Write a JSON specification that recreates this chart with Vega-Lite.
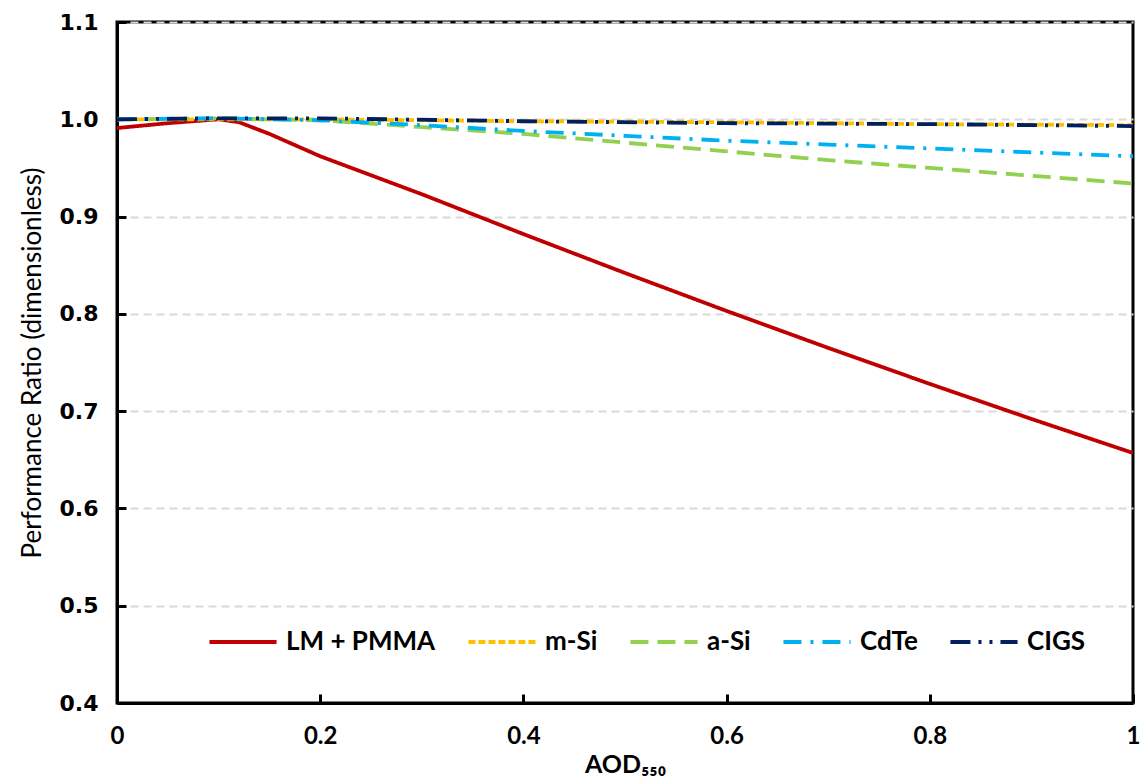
{
  "$schema": "https://vega.github.io/schema/vega-lite/v6.json",
  "width": 1016,
  "height": 681,
  "autosize": {"type": "none"},
  "padding": {"left": 117, "top": 22, "right": 10, "bottom": 77},
  "background": "white",
  "config": {
    "view": {"stroke": "black", "strokeWidth": 3},
    "axis": {
      "domainColor": "black",
      "domainWidth": 3,
      "tickColor": "black",
      "tickWidth": 3,
      "tickSize": -9,
      "labelColor": "black",
      "titleColor": "black"
    }
  },
  "data": {
    "values": [
      {"aod": 0.0, "pr": 0.991, "series": "LM + PMMA"},
      {"aod": 0.05, "pr": 0.996, "series": "LM + PMMA"},
      {"aod": 0.1, "pr": 1.0, "series": "LM + PMMA"},
      {"aod": 0.12, "pr": 0.997, "series": "LM + PMMA"},
      {"aod": 0.15, "pr": 0.985, "series": "LM + PMMA"},
      {"aod": 0.2, "pr": 0.962, "series": "LM + PMMA"},
      {"aod": 0.3, "pr": 0.923, "series": "LM + PMMA"},
      {"aod": 0.4, "pr": 0.882, "series": "LM + PMMA"},
      {"aod": 0.5, "pr": 0.842, "series": "LM + PMMA"},
      {"aod": 0.6, "pr": 0.803, "series": "LM + PMMA"},
      {"aod": 0.7, "pr": 0.765, "series": "LM + PMMA"},
      {"aod": 0.8, "pr": 0.728, "series": "LM + PMMA"},
      {"aod": 0.9, "pr": 0.692, "series": "LM + PMMA"},
      {"aod": 1.0, "pr": 0.657, "series": "LM + PMMA"},

      {"aod": 0.0, "pr": 1.0, "series": "m-Si"},
      {"aod": 0.1, "pr": 1.0, "series": "m-Si"},
      {"aod": 0.2, "pr": 1.0, "series": "m-Si"},
      {"aod": 0.4, "pr": 0.998, "series": "m-Si"},
      {"aod": 0.6, "pr": 0.997, "series": "m-Si"},
      {"aod": 0.8, "pr": 0.995, "series": "m-Si"},
      {"aod": 1.0, "pr": 0.994, "series": "m-Si"},

      {"aod": 0.0, "pr": 1.0, "series": "a-Si"},
      {"aod": 0.1, "pr": 1.001, "series": "a-Si"},
      {"aod": 0.2, "pr": 0.999, "series": "a-Si"},
      {"aod": 0.3, "pr": 0.992, "series": "a-Si"},
      {"aod": 0.4, "pr": 0.985, "series": "a-Si"},
      {"aod": 0.5, "pr": 0.976, "series": "a-Si"},
      {"aod": 0.6, "pr": 0.967, "series": "a-Si"},
      {"aod": 0.7, "pr": 0.958, "series": "a-Si"},
      {"aod": 0.8, "pr": 0.95, "series": "a-Si"},
      {"aod": 0.9, "pr": 0.942, "series": "a-Si"},
      {"aod": 1.0, "pr": 0.934, "series": "a-Si"},

      {"aod": 0.0, "pr": 1.0, "series": "CdTe"},
      {"aod": 0.1, "pr": 1.001, "series": "CdTe"},
      {"aod": 0.2, "pr": 0.999, "series": "CdTe"},
      {"aod": 0.3, "pr": 0.994, "series": "CdTe"},
      {"aod": 0.4, "pr": 0.988, "series": "CdTe"},
      {"aod": 0.5, "pr": 0.983, "series": "CdTe"},
      {"aod": 0.6, "pr": 0.978, "series": "CdTe"},
      {"aod": 0.7, "pr": 0.974, "series": "CdTe"},
      {"aod": 0.8, "pr": 0.97, "series": "CdTe"},
      {"aod": 0.9, "pr": 0.966, "series": "CdTe"},
      {"aod": 1.0, "pr": 0.962, "series": "CdTe"},

      {"aod": 0.0, "pr": 1.0, "series": "CIGS"},
      {"aod": 0.1, "pr": 1.001, "series": "CIGS"},
      {"aod": 0.2, "pr": 1.001, "series": "CIGS"},
      {"aod": 0.4, "pr": 0.998, "series": "CIGS"},
      {"aod": 0.6, "pr": 0.996, "series": "CIGS"},
      {"aod": 0.8, "pr": 0.995, "series": "CIGS"},
      {"aod": 1.0, "pr": 0.993, "series": "CIGS"}
    ]
  },
  "mark": {"type": "line", "strokeWidth": 3.8, "clip": true},
  "encoding": {
    "x": {
      "field": "aod",
      "type": "quantitative",
      "scale": {"domain": [0, 1], "nice": false},
      "axis": {
        "title": "AOD₅₅₀",
        "titleFont": "Lato",
        "titleFontSize": 25,
        "titleFontWeight": "bold",
        "titlePadding": 4,
        "values": [0, 0.2, 0.4, 0.6, 0.8, 1],
        "format": "~g",
        "labelFont": "Lato",
        "labelFontSize": 24,
        "labelFontWeight": "bold",
        "labelPadding": 30,
        "labelFlush": false,
        "grid": false
      }
    },
    "y": {
      "field": "pr",
      "type": "quantitative",
      "scale": {"domain": [0.4, 1.1], "nice": false, "zero": false},
      "axis": {
        "title": "Performance Ratio (dimensionless)",
        "titleFont": "Lato",
        "titleFontSize": 26,
        "titleFontWeight": "normal",
        "titlePadding": 14,
        "values": [0.4, 0.5, 0.6, 0.7, 0.8, 0.9, 1.0, 1.1],
        "format": ".1f",
        "labelFont": "DejaVu Sans",
        "labelFontSize": 22,
        "labelFontWeight": "bold",
        "labelPadding": 28,
        "labelFlush": false,
        "grid": true,
        "gridColor": "#d9d9d9",
        "gridWidth": 2,
        "gridDash": [8, 5]
      }
    },
    "color": {
      "field": "series",
      "type": "nominal",
      "sort": null,
      "scale": {
        "domain": ["LM + PMMA", "m-Si", "a-Si", "CdTe", "CIGS"],
        "range": ["#C00000", "#FFC000", "#92D050", "#00B0F0", "#002060"]
      },
      "legend": {
        "title": null,
        "orient": "none",
        "legendX": 90,
        "legendY": 584,
        "direction": "horizontal",
        "symbolType": "stroke",
        "symbolSize": 4500,
        "symbolStrokeWidth": 4,
        "labelFont": "Lato",
        "labelFontSize": 26,
        "labelFontWeight": "bold",
        "labelColor": "black",
        "labelOffset": 7,
        "columnPadding": 24
      }
    },
    "strokeDash": {
      "field": "series",
      "type": "nominal",
      "sort": null,
      "scale": {
        "domain": ["LM + PMMA", "m-Si", "a-Si", "CdTe", "CIGS"],
        "range": [[1, 0], [7, 3], [18, 9], [18, 9, 3, 9], [20, 8, 3, 8, 3, 8]]
      },
      "legend": {
        "title": null,
        "orient": "none",
        "legendX": 90,
        "legendY": 584,
        "direction": "horizontal",
        "symbolType": "stroke",
        "symbolSize": 4500,
        "symbolStrokeWidth": 4,
        "labelFont": "Lato",
        "labelFontSize": 26,
        "labelFontWeight": "bold",
        "labelColor": "black",
        "labelOffset": 7,
        "columnPadding": 24
      }
    }
  }
}
